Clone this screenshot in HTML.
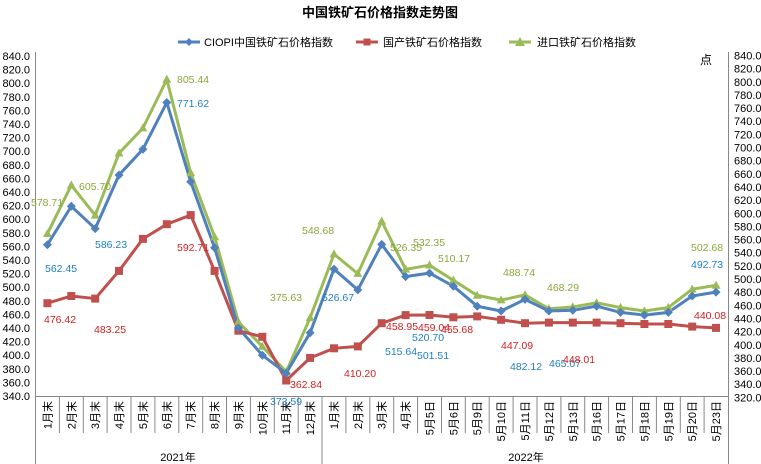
<!DOCTYPE html>
<html><head><meta charset="utf-8"><style>
body{margin:0;background:#fff;}
svg{display:block;font-family:"Liberation Sans","Noto Sans CJK SC",sans-serif;}
</style></head><body>
<svg width="761" height="464" viewBox="0 0 761 464" xmlns="http://www.w3.org/2000/svg">
<rect width="761" height="464" fill="#fff"/>
<text x="380" y="17" text-anchor="middle" font-size="13" font-weight="bold">中国铁矿石价格指数走势图</text>
<!-- legend -->
<g font-size="11">
<line x1="178" y1="42" x2="200" y2="42" stroke="#4f81bd" stroke-width="3"/><path d="M189 38 L193 42 L189 46 L185 42Z" fill="#4f81bd"/>
<text x="204" y="46">CIOPI中国铁矿石价格指数</text>
<line x1="356" y1="42" x2="378" y2="42" stroke="#c0504d" stroke-width="3"/><rect x="363.5" y="38.5" width="7" height="7" fill="#c0504d"/>
<text x="383" y="46">国产铁矿石价格指数</text>
<line x1="509" y1="42" x2="531" y2="42" stroke="#9bbb59" stroke-width="3"/><path d="M520 37 L525 46 L515 46Z" fill="#9bbb59"/>
<text x="537" y="46">进口铁矿石价格指数</text>
</g>
<text x="706" y="64" font-size="12" text-anchor="middle">点</text>
<!-- axes -->
<g stroke="#888" stroke-width="1">
<line x1="35.5" y1="52" x2="35.5" y2="464"/>
<line x1="728.5" y1="52" x2="728.5" y2="464"/>
<line x1="35.5" y1="396.5" x2="728.5" y2="396.5"/>
<line x1="322" y1="396" x2="322" y2="464"/>
</g>
<g stroke="#888" stroke-width="1" id="xt">
<line x1="59.4" y1="396" x2="59.4" y2="433"/><line x1="83.3" y1="396" x2="83.3" y2="433"/><line x1="107.1" y1="396" x2="107.1" y2="433"/><line x1="131" y1="396" x2="131" y2="433"/><line x1="154.9" y1="396" x2="154.9" y2="433"/><line x1="178.8" y1="396" x2="178.8" y2="433"/><line x1="202.7" y1="396" x2="202.7" y2="433"/><line x1="226.5" y1="396" x2="226.5" y2="433"/><line x1="250.4" y1="396" x2="250.4" y2="433"/><line x1="274.3" y1="396" x2="274.3" y2="433"/><line x1="298.2" y1="396" x2="298.2" y2="433"/><line x1="345.9" y1="396" x2="345.9" y2="433"/><line x1="369.8" y1="396" x2="369.8" y2="433"/><line x1="393.7" y1="396" x2="393.7" y2="433"/><line x1="417.6" y1="396" x2="417.6" y2="433"/><line x1="441.5" y1="396" x2="441.5" y2="433"/><line x1="465.3" y1="396" x2="465.3" y2="433"/><line x1="489.2" y1="396" x2="489.2" y2="433"/><line x1="513.1" y1="396" x2="513.1" y2="433"/><line x1="537" y1="396" x2="537" y2="433"/><line x1="560.9" y1="396" x2="560.9" y2="433"/><line x1="584.7" y1="396" x2="584.7" y2="433"/><line x1="608.6" y1="396" x2="608.6" y2="433"/><line x1="632.5" y1="396" x2="632.5" y2="433"/><line x1="656.4" y1="396" x2="656.4" y2="433"/><line x1="680.3" y1="396" x2="680.3" y2="433"/><line x1="704.1" y1="396" x2="704.1" y2="433"/>
</g>
<!-- left y labels -->
<g font-size="11" text-anchor="end">
<text x="30" y="60">840.0</text><text x="30" y="73.6">820.0</text><text x="30" y="87.2">800.0</text><text x="30" y="100.8">780.0</text><text x="30" y="114.4">760.0</text><text x="30" y="128">740.0</text><text x="30" y="141.6">720.0</text><text x="30" y="155.2">700.0</text><text x="30" y="168.8">680.0</text><text x="30" y="182.4">660.0</text><text x="30" y="196">640.0</text><text x="30" y="209.6">620.0</text><text x="30" y="223.2">600.0</text><text x="30" y="236.8">580.0</text><text x="30" y="250.4">560.0</text><text x="30" y="264">540.0</text><text x="30" y="277.6">520.0</text><text x="30" y="291.2">500.0</text><text x="30" y="304.8">480.0</text><text x="30" y="318.4">460.0</text><text x="30" y="332">440.0</text><text x="30" y="345.6">420.0</text><text x="30" y="359.2">400.0</text><text x="30" y="372.8">380.0</text><text x="30" y="386.4">360.0</text><text x="30" y="400">340.0</text>
</g>
<g font-size="11">
<text x="734" y="59.5">840.0</text><text x="734" y="72.6">820.0</text><text x="734" y="85.8">800.0</text><text x="734" y="98.9">780.0</text><text x="734" y="112.1">760.0</text><text x="734" y="125.2">740.0</text><text x="734" y="138.4">720.0</text><text x="734" y="151.5">700.0</text><text x="734" y="164.7">680.0</text><text x="734" y="177.8">660.0</text><text x="734" y="191">640.0</text><text x="734" y="204.1">620.0</text><text x="734" y="217.3">600.0</text><text x="734" y="230.4">580.0</text><text x="734" y="243.6">560.0</text><text x="734" y="256.7">540.0</text><text x="734" y="269.9">520.0</text><text x="734" y="283">500.0</text><text x="734" y="296.2">480.0</text><text x="734" y="309.3">460.0</text><text x="734" y="322.5">440.0</text><text x="734" y="335.6">420.0</text><text x="734" y="348.8">400.0</text><text x="734" y="361.9">380.0</text><text x="734" y="375.1">360.0</text><text x="734" y="388.2">340.0</text><text x="734" y="401.4">320.0</text>
</g>
<!-- x labels rotated -->
<g font-size="11">
<text transform="translate(51.4,401) rotate(-90)" text-anchor="end">1月末</text>
<text transform="translate(75.3,401) rotate(-90)" text-anchor="end">2月末</text>
<text transform="translate(99.2,401) rotate(-90)" text-anchor="end">3月末</text>
<text transform="translate(123,401) rotate(-90)" text-anchor="end">4月末</text>
<text transform="translate(146.9,401) rotate(-90)" text-anchor="end">5月末</text>
<text transform="translate(170.8,401) rotate(-90)" text-anchor="end">6月末</text>
<text transform="translate(194.7,401) rotate(-90)" text-anchor="end">7月末</text>
<text transform="translate(218.6,401) rotate(-90)" text-anchor="end">8月末</text>
<text transform="translate(242.4,401) rotate(-90)" text-anchor="end">9月末</text>
<text transform="translate(266.3,401) rotate(-90)" text-anchor="end">10月末</text>
<text transform="translate(290.2,401) rotate(-90)" text-anchor="end">11月末</text>
<text transform="translate(314.1,401) rotate(-90)" text-anchor="end">12月末</text>
<text transform="translate(338,401) rotate(-90)" text-anchor="end">1月末</text>
<text transform="translate(361.8,401) rotate(-90)" text-anchor="end">2月末</text>
<text transform="translate(385.7,401) rotate(-90)" text-anchor="end">3月末</text>
<text transform="translate(409.6,401) rotate(-90)" text-anchor="end">4月末</text>
<text transform="translate(433.5,401) rotate(-90)" text-anchor="end">5月5日</text>
<text transform="translate(457.4,401) rotate(-90)" text-anchor="end">5月6日</text>
<text transform="translate(481.2,401) rotate(-90)" text-anchor="end">5月9日</text>
<text transform="translate(505.1,401) rotate(-90)" text-anchor="end">5月10日</text>
<text transform="translate(529,401) rotate(-90)" text-anchor="end">5月11日</text>
<text transform="translate(552.9,401) rotate(-90)" text-anchor="end">5月12日</text>
<text transform="translate(576.8,401) rotate(-90)" text-anchor="end">5月13日</text>
<text transform="translate(600.6,401) rotate(-90)" text-anchor="end">5月16日</text>
<text transform="translate(624.5,401) rotate(-90)" text-anchor="end">5月17日</text>
<text transform="translate(648.4,401) rotate(-90)" text-anchor="end">5月18日</text>
<text transform="translate(672.3,401) rotate(-90)" text-anchor="end">5月19日</text>
<text transform="translate(696.2,401) rotate(-90)" text-anchor="end">5月20日</text>
<text transform="translate(720,401) rotate(-90)" text-anchor="end">5月23日</text>
<text x="178" y="461" text-anchor="middle">2021年</text>
<text x="526" y="461" text-anchor="middle">2022年</text>
</g>
<!-- series -->
<polyline fill="none" stroke="#9bbb59" stroke-width="3" points="47.4,233.7 71.3,185.2 95.2,215.3 119,153.2 142.9,128.1 166.8,79.5 190.7,173 214.6,236.9 238.4,321.9 262.3,346.4 286.2,371.8 310.1,317.8 334,254.1 357.8,273.6 381.7,221.2 405.6,269.3 429.5,265.2 453.4,280.3 477.2,295.4 501.1,300.1 525,294.9 548.9,308.8 572.8,307 596.6,302.8 620.5,307.6 644.4,311 668.3,307.6 692.2,289.2 716,285.4"/>
<polyline fill="none" stroke="#c0504d" stroke-width="3" points="47.4,303.2 71.3,296 95.2,298.6 119,270.9 142.9,238.9 166.8,224.2 190.7,215.1 214.6,270.9 238.4,330.7 262.3,336.8 286.2,380.5 310.1,357.9 334,348.3 357.8,346.4 381.7,323.2 405.6,315.1 429.5,315 453.4,317.3 477.2,316.4 501.1,319.8 525,323.2 548.9,322.6 572.8,322.6 596.6,322.6 620.5,323.2 644.4,324 668.3,324 692.2,326.6 716,327.9"/>
<polyline fill="none" stroke="#4f81bd" stroke-width="3" points="47.4,244.7 71.3,206.3 95.2,228.6 119,175 142.9,149.2 166.8,102.5 190.7,181.8 214.6,247.8 238.4,328 262.3,355.2 286.2,373.2 310.1,332.8 334,269.1 357.8,289.9 381.7,244.4 405.6,276.6 429.5,273.1 453.4,286.2 477.2,306.2 501.1,311 525,299.4 548.9,311 572.8,310.3 596.6,306.2 620.5,312.4 644.4,315.1 668.3,312.4 692.2,296 716,292.1"/>
<!-- markers -->
<g fill="#9bbb59">
<path d="M47.4,229 l4.5,8 h-9z"/><path d="M71.3,180.5 l4.5,8 h-9z"/><path d="M95.2,210.6 l4.5,8 h-9z"/><path d="M119,148.5 l4.5,8 h-9z"/><path d="M142.9,123.4 l4.5,8 h-9z"/><path d="M166.8,74.8 l4.5,8 h-9z"/><path d="M190.7,168.3 l4.5,8 h-9z"/><path d="M214.6,232.2 l4.5,8 h-9z"/><path d="M238.4,317.2 l4.5,8 h-9z"/><path d="M262.3,341.7 l4.5,8 h-9z"/><path d="M286.2,367.1 l4.5,8 h-9z"/><path d="M310.1,313.1 l4.5,8 h-9z"/><path d="M334,249.4 l4.5,8 h-9z"/><path d="M357.8,268.9 l4.5,8 h-9z"/><path d="M381.7,216.5 l4.5,8 h-9z"/><path d="M405.6,264.6 l4.5,8 h-9z"/><path d="M429.5,260.5 l4.5,8 h-9z"/><path d="M453.4,275.6 l4.5,8 h-9z"/><path d="M477.2,290.7 l4.5,8 h-9z"/><path d="M501.1,295.4 l4.5,8 h-9z"/><path d="M525,290.2 l4.5,8 h-9z"/><path d="M548.9,304.1 l4.5,8 h-9z"/><path d="M572.8,302.3 l4.5,8 h-9z"/><path d="M596.6,298.1 l4.5,8 h-9z"/><path d="M620.5,302.9 l4.5,8 h-9z"/><path d="M644.4,306.3 l4.5,8 h-9z"/><path d="M668.3,302.9 l4.5,8 h-9z"/><path d="M692.2,284.5 l4.5,8 h-9z"/><path d="M716,280.7 l4.5,8 h-9z"/>
</g>
<g fill="#c0504d">
<rect x="43.4" y="299.2" width="8" height="8"/><rect x="67.3" y="292" width="8" height="8"/><rect x="91.2" y="294.6" width="8" height="8"/><rect x="115" y="266.9" width="8" height="8"/><rect x="138.9" y="234.9" width="8" height="8"/><rect x="162.8" y="220.2" width="8" height="8"/><rect x="186.7" y="211.1" width="8" height="8"/><rect x="210.6" y="266.9" width="8" height="8"/><rect x="234.4" y="326.7" width="8" height="8"/><rect x="258.3" y="332.8" width="8" height="8"/><rect x="282.2" y="376.5" width="8" height="8"/><rect x="306.1" y="353.9" width="8" height="8"/><rect x="330" y="344.3" width="8" height="8"/><rect x="353.8" y="342.4" width="8" height="8"/><rect x="377.7" y="319.2" width="8" height="8"/><rect x="401.6" y="311.1" width="8" height="8"/><rect x="425.5" y="311" width="8" height="8"/><rect x="449.4" y="313.3" width="8" height="8"/><rect x="473.2" y="312.4" width="8" height="8"/><rect x="497.1" y="315.8" width="8" height="8"/><rect x="521" y="319.2" width="8" height="8"/><rect x="544.9" y="318.6" width="8" height="8"/><rect x="568.8" y="318.6" width="8" height="8"/><rect x="592.6" y="318.6" width="8" height="8"/><rect x="616.5" y="319.2" width="8" height="8"/><rect x="640.4" y="320" width="8" height="8"/><rect x="664.3" y="320" width="8" height="8"/><rect x="688.2" y="322.6" width="8" height="8"/><rect x="712" y="323.9" width="8" height="8"/>
</g>
<g fill="#4f81bd">
<path d="M47.4,240.2 l4.5,4.5 l-4.5,4.5 l-4.5,-4.5z"/><path d="M71.3,201.8 l4.5,4.5 l-4.5,4.5 l-4.5,-4.5z"/><path d="M95.2,224.1 l4.5,4.5 l-4.5,4.5 l-4.5,-4.5z"/><path d="M119,170.5 l4.5,4.5 l-4.5,4.5 l-4.5,-4.5z"/><path d="M142.9,144.7 l4.5,4.5 l-4.5,4.5 l-4.5,-4.5z"/><path d="M166.8,98 l4.5,4.5 l-4.5,4.5 l-4.5,-4.5z"/><path d="M190.7,177.3 l4.5,4.5 l-4.5,4.5 l-4.5,-4.5z"/><path d="M214.6,243.3 l4.5,4.5 l-4.5,4.5 l-4.5,-4.5z"/><path d="M238.4,323.5 l4.5,4.5 l-4.5,4.5 l-4.5,-4.5z"/><path d="M262.3,350.7 l4.5,4.5 l-4.5,4.5 l-4.5,-4.5z"/><path d="M286.2,368.7 l4.5,4.5 l-4.5,4.5 l-4.5,-4.5z"/><path d="M310.1,328.3 l4.5,4.5 l-4.5,4.5 l-4.5,-4.5z"/><path d="M334,264.6 l4.5,4.5 l-4.5,4.5 l-4.5,-4.5z"/><path d="M357.8,285.4 l4.5,4.5 l-4.5,4.5 l-4.5,-4.5z"/><path d="M381.7,239.9 l4.5,4.5 l-4.5,4.5 l-4.5,-4.5z"/><path d="M405.6,272.1 l4.5,4.5 l-4.5,4.5 l-4.5,-4.5z"/><path d="M429.5,268.6 l4.5,4.5 l-4.5,4.5 l-4.5,-4.5z"/><path d="M453.4,281.7 l4.5,4.5 l-4.5,4.5 l-4.5,-4.5z"/><path d="M477.2,301.7 l4.5,4.5 l-4.5,4.5 l-4.5,-4.5z"/><path d="M501.1,306.5 l4.5,4.5 l-4.5,4.5 l-4.5,-4.5z"/><path d="M525,294.9 l4.5,4.5 l-4.5,4.5 l-4.5,-4.5z"/><path d="M548.9,306.5 l4.5,4.5 l-4.5,4.5 l-4.5,-4.5z"/><path d="M572.8,305.8 l4.5,4.5 l-4.5,4.5 l-4.5,-4.5z"/><path d="M596.6,301.7 l4.5,4.5 l-4.5,4.5 l-4.5,-4.5z"/><path d="M620.5,307.9 l4.5,4.5 l-4.5,4.5 l-4.5,-4.5z"/><path d="M644.4,310.6 l4.5,4.5 l-4.5,4.5 l-4.5,-4.5z"/><path d="M668.3,307.9 l4.5,4.5 l-4.5,4.5 l-4.5,-4.5z"/><path d="M692.2,291.5 l4.5,4.5 l-4.5,4.5 l-4.5,-4.5z"/><path d="M716,287.6 l4.5,4.5 l-4.5,4.5 l-4.5,-4.5z"/>
</g>
<!-- data labels -->
<g font-size="10.5" fill="#8aa83a">
<text x="31" y="206">578.71</text><text x="79" y="190">605.70</text><text x="177" y="83">805.44</text><text x="270" y="301">375.63</text><text x="302" y="234">548.68</text><text x="390" y="251">526.35</text><text x="413" y="246">532.35</text><text x="438" y="262">510.17</text><text x="503" y="276">488.74</text><text x="547" y="291">468.29</text><text x="691" y="251">502.68</text>
</g>
<g font-size="10.5" fill="#1f7fc4">
<text x="45" y="272">562.45</text><text x="95" y="248">586.23</text><text x="177" y="107">771.62</text><text x="270" y="405">373.59</text><text x="322" y="301">526.67</text><text x="385" y="355">515.64</text><text x="412" y="341">520.70</text><text x="417" y="359">501.51</text><text x="510" y="370">482.12</text><text x="549" y="367">465.07</text><text x="691" y="268">492.73</text>
</g>
<g font-size="10.5" fill="#d02020">
<text x="44" y="323">476.42</text><text x="94" y="333">483.25</text><text x="177" y="251">592.71</text><text x="290" y="388">362.84</text><text x="344" y="377">410.20</text><text x="386" y="330">458.95</text><text x="418" y="331">459.04</text><text x="441" y="333">455.68</text><text x="501" y="349">447.09</text><text x="563" y="363">448.01</text><text x="694" y="319">440.08</text>
</g>
</svg>
</body></html>
